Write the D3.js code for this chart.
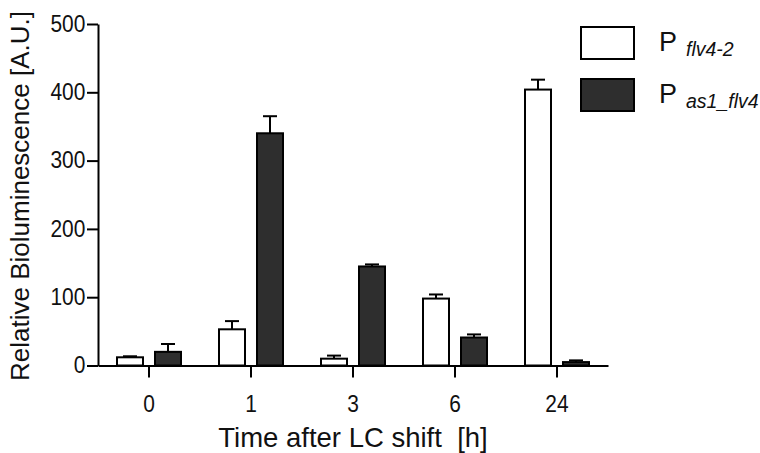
<!DOCTYPE html>
<html>
<head>
<meta charset="utf-8">
<script src="https://cdn.jsdelivr.net/npm/d3@7"></script>
<style>
  body { margin: 0; background: #fff; }
  svg { font-family: "Liberation Sans", Arial, sans-serif; }
  .ax text { fill: #111; }
</style>
</head>
<body>
<svg id="chart" width="760" height="453"></svg>
<script>
// data
const times = ['0', '1', '3', '6', '24'];
const flv42 = [12, 53, 10, 98, 404];
const flv42Err = [1.5, 12, 4.5, 6, 14.5];
const as1flv4 = [20, 340, 145, 41, 5];
const as1flv4Err = [11.5, 25, 3, 4.5, 2.5];
const yTicks = [0, 100, 200, 300, 400, 500];

const series = [
  { name: 'flv4-2', vals: flv42, err: flv42Err, fill: '#ffffff', off: -19 },
  { name: 'as1_flv4', vals: as1flv4, err: as1flv4Err, fill: '#2e2e2e', off: 19 }
];

const margin = { left: 98, right: 152, top: 24, bottom: 87 };
const W = 760, H = 453;
const svg = d3.select('#chart');

const x = d3.scaleBand().domain(times).range([margin.left, W - margin.right]);
const y = d3.scaleLinear().domain([0, 500]).range([H - margin.bottom - 0.5, margin.top]);
const barW = 26;

// bars
series.forEach(s => {
  const g = svg.append('g');
  times.forEach((t, i) => {
    const cx = x(t) + x.bandwidth() / 2 + s.off;
    const top = y(s.vals[i]);
    const capY = y(s.vals[i] + s.err[i]);
    // error bar (upper only)
    g.append('line')
      .attr('x1', cx).attr('x2', cx)
      .attr('y1', top).attr('y2', capY)
      .attr('stroke', '#000').attr('stroke-width', 2);
    g.append('line')
      .attr('x1', cx - 7).attr('x2', cx + 7)
      .attr('y1', capY).attr('y2', capY)
      .attr('stroke', '#000').attr('stroke-width', 2);
    g.append('rect')
      .attr('x', cx - barW / 2)
      .attr('y', top)
      .attr('width', barW)
      .attr('height', y(0) - top)
      .attr('fill', s.fill)
      .attr('stroke', '#000')
      .attr('stroke-width', 2);
  });
});

// y axis
svg.append('g')
  .attr('class', 'ax')
  .attr('transform', 'translate(' + margin.left + ',0)')
  .call(d3.axisLeft(y).tickValues(yTicks).tickSize(11).tickPadding(3).tickSizeOuter(0))
  .call(g => g.selectAll('line, path').attr('stroke', '#000').attr('stroke-width', 2))
  .call(g => g.selectAll('text').style('font-size', '23px').attr('transform', 'scale(0.91,1)'));

// x axis
svg.append('g')
  .attr('class', 'ax')
  .attr('transform', 'translate(0,' + y(0) + ')')
  .call(d3.axisBottom(x).tickSize(12).tickPadding(18).tickSizeOuter(0))
  .call(g => g.selectAll('line, path').attr('stroke', '#000').attr('stroke-width', 2))
  .call(g => g.selectAll('text').style('font-size', '23px').attr('transform', 'scale(0.91,1)'));

// axis titles
svg.append('text')
  .attr('x', 353).attr('y', 447)
  .attr('text-anchor', 'middle')
  .style('font-size', '27.5px')
  .style('white-space', 'pre')
  .attr('fill', '#111')
  .text('Time after LC shift  [h]');

svg.append('text')
  .attr('transform', 'translate(29,196) rotate(-90)')
  .attr('text-anchor', 'middle')
  .style('font-size', '26px')
  .attr('fill', '#111')
  .text('Relative Bioluminescence [A.U.]');

// legend
const leg = svg.append('g');
series.forEach((s, i) => {
  const ly = 27 + i * 52;
  leg.append('rect')
    .attr('x', 581).attr('y', ly)
    .attr('width', 53).attr('height', 32)
    .attr('fill', s.fill)
    .attr('stroke', '#000').attr('stroke-width', 2);
  const t = leg.append('text')
    .attr('x', 659).attr('y', ly + 24)
    .attr('fill', '#111');
  t.append('tspan').style('font-size', '27px').text('P');
  t.append('tspan')
    .attr('dx', 9).attr('dy', 5)
    .style('font-size', '19.5px')
    .style('font-style', 'italic')
    .text(s.name);
});
</script>
</body>
</html>
